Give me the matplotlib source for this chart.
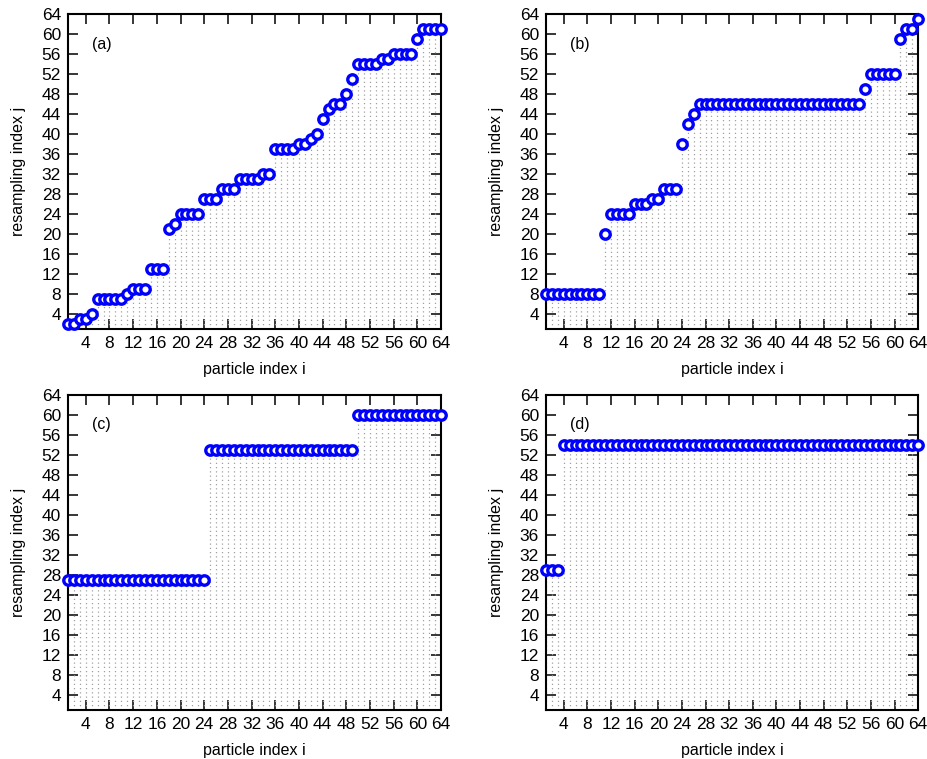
import numpy as np
import matplotlib
matplotlib.use("Agg")
import matplotlib.pyplot as plt

plt.rcParams["font.family"] = ["Liberation Sans", "DejaVu Sans"]

particle = np.arange(1, 65)

# resampling index j for each particle index i, read per panel
resA = ([2, 2, 3, 3, 4] + [7] * 5 + [8] + [9] * 3 + [13] * 3 + [21, 22] + [24] * 4
        + [27] * 3 + [29] * 3 + [31] * 4 + [32] * 2 + [37] * 4 + [38] * 2
        + [39, 40, 43, 45] + [46] * 2 + [48, 51] + [54] * 4 + [55] * 2 + [56] * 4
        + [59] + [61] * 4)
resB = ([8] * 10 + [20] + [24] * 4 + [26] * 3 + [27] * 2 + [29] * 3 + [38, 42, 44]
        + [46] * 28 + [49] + [52] * 5 + [59] + [61] * 2 + [63])
resC = [27] * 24 + [53] * 25 + [60] * 15
resD = [29] * 3 + [54] * 61

panels = [("(a)", resA), ("(b)", resB), ("(c)", resC), ("(d)", resD)]
ticks = np.arange(4, 65, 4)

fig = plt.figure(figsize=(9.28, 7.59), dpi=100)
rects = [
    [0.0733, 0.5665, 0.402, 0.415],
    [0.5884, 0.5665, 0.401, 0.415],
    [0.0733, 0.0646, 0.402, 0.415],
    [0.5884, 0.0646, 0.401, 0.415],
]

for rect, (tag, res) in zip(rects, panels):
    ax = fig.add_axes(rect)
    ax.vlines(particle, 1, res, colors="#a0a0a0", linestyles=(0, (1, 2.4)), linewidth=0.9)
    ax.plot(particle, res, "o", color="blue", markerfacecolor="white",
            markeredgecolor="blue", markersize=6.8, markeredgewidth=2.4,
            clip_on=False, zorder=5)
    ax.set_xlim(1, 64)
    ax.set_ylim(1, 64)
    ax.set_xticks(ticks)
    ax.set_yticks(ticks)
    ax.tick_params(direction="in", length=7, width=1.1, top=True, right=True,
                   labelsize=12.5, pad=5)
    for sp in ax.spines.values():
        sp.set_linewidth(1.5)
    ax.set_xlabel("particle index i", fontsize=11.5, labelpad=8)
    ax.set_ylabel("resampling index j", fontsize=11.5, labelpad=11)
    ax.text(5, 58, tag, fontsize=11.5, ha="left", va="center")

fig.savefig("out.png", dpi=100)
